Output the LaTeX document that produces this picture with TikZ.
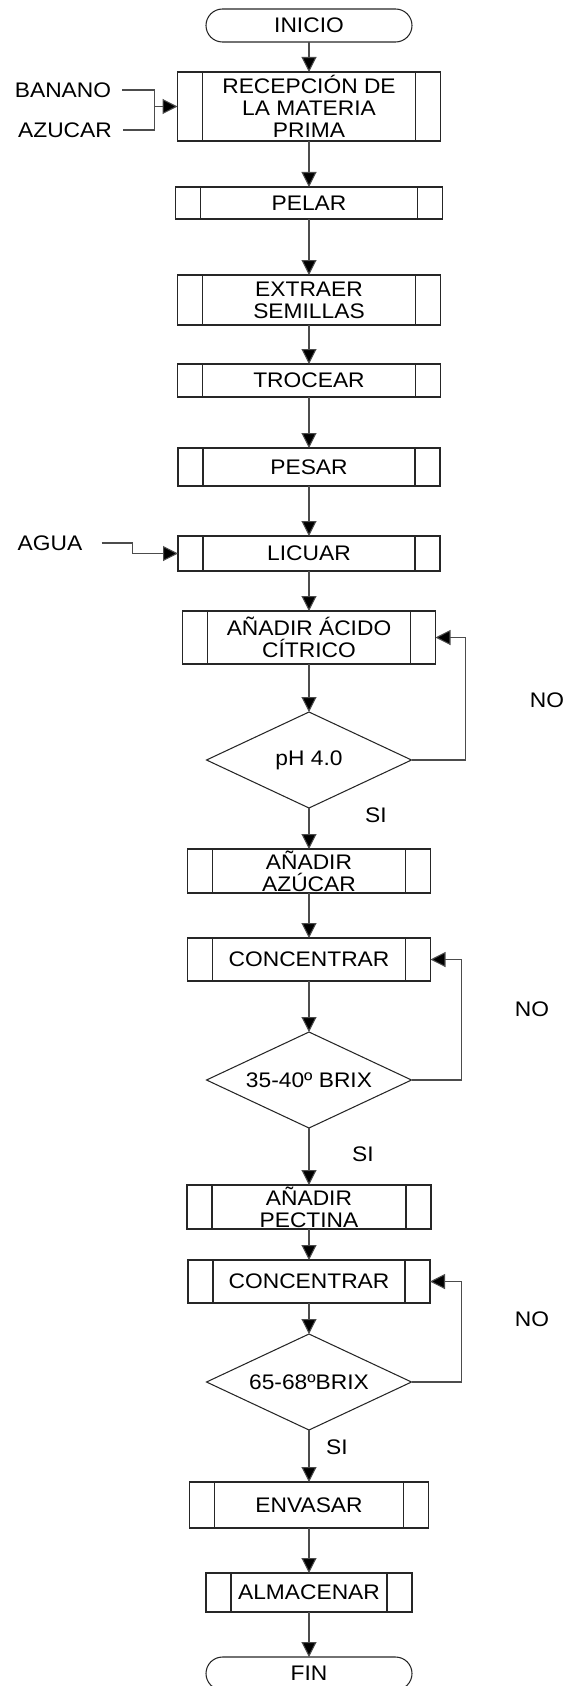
\documentclass[tikz,border=0pt]{standalone}
\usepackage{fontspec}
\setmainfont[FakeStretch=1.08]{Liberation Sans}
\usetikzlibrary{shapes,arrows.meta,positioning}

\begin{document}
\begin{tikzpicture}[
  node distance=0.8cm,
  font=\fontsize{12}{12.5}\selectfont,
  base/.style={draw=black!85, line width=0.6pt, align=center, inner sep=0pt, outer sep=0pt},
  proceso/.style={base, rectangle, path picture={
      \draw[black!85, line width=0.6pt] ([xshift=0.5cm]path picture bounding box.north west) -- ([xshift=0.5cm]path picture bounding box.south west);
      \draw[black!85, line width=0.6pt] ([xshift=-0.5cm]path picture bounding box.north east) -- ([xshift=-0.5cm]path picture bounding box.south east);}},
  terminal/.style={base, rectangle, rounded corners=0.33cm, minimum width=4.12cm, minimum height=0.66cm},
  decision/.style={base, diamond, aspect=2.13, minimum width=4.1cm, minimum height=1.92cm},
  etiqueta/.style={inner sep=2pt},
  linea/.style={draw=black!70, line width=0.6pt},
  arrow/.style={linea, -{Triangle[length=0.3cm, width=0.3cm, fill=black]}}
]
\useasboundingbox (0,0) rectangle (11.32,-33.72);

\node[terminal] (inicio) at (6.18,-0.51) {INICIO};
\node[proceso, minimum width=5.26cm, minimum height=1.38cm, below=0.60cm of inicio] (recep) {RECEPCIÓN DE\\LA MATERIA\\PRIMA};
\node[proceso, minimum width=5.34cm, minimum height=0.64cm, below=0.92cm of recep] (pelar) {PELAR};
\node[proceso, minimum width=5.26cm, minimum height=1.00cm, below=1.12cm of pelar] (extraer) {EXTRAER\\SEMILLAS};
\node[proceso, minimum width=5.26cm, minimum height=0.66cm, below=0.78cm of extraer] (trocear) {TROCEAR};
\node[proceso, minimum width=5.24cm, minimum height=0.76cm, below=1.02cm of trocear] (pesar) {PESAR};
\node[proceso, minimum width=5.24cm, minimum height=0.70cm, below=1.00cm of pesar] (licuar) {LICUAR};
\node[proceso, minimum width=5.06cm, minimum height=1.06cm, below=0.80cm of licuar] (acido) {AÑADIR ÁCIDO\\CÍTRICO};
\node[decision, below=0.96cm of acido] (ph) {pH 4.0};
\node[proceso, minimum width=4.86cm, minimum height=0.88cm, below=0.82cm of ph] (azucar) {AÑADIR\\AZÚCAR};
\node[proceso, minimum width=4.86cm, minimum height=0.86cm, below=0.90cm of azucar] (conc1) {CONCENTRAR};
\node[decision, below=1.02cm of conc1] (brix1) {35-40º BRIX};
\node[proceso, minimum width=4.88cm, minimum height=0.88cm, below=1.14cm of brix1] (pectina) {AÑADIR\\PECTINA};
\node[proceso, minimum width=4.84cm, minimum height=0.86cm, below=0.62cm of pectina] (conc2) {CONCENTRAR};
\node[decision, below=0.62cm of conc2] (brix2) {65-68ºBRIX};
\node[proceso, minimum width=4.78cm, minimum height=0.92cm, below=1.04cm of brix2] (envasar) {ENVASAR};
\node[proceso, minimum width=4.12cm, minimum height=0.78cm, below=0.90cm of envasar] (almacenar) {ALMACENAR};
\node[terminal, below=0.90cm of almacenar] (fin) {FIN};

% entradas
\node[etiqueta] (banano) at (1.26,-1.80) {BANANO};
\node[etiqueta] (azucarin) at (1.30,-2.60) {AZUCAR};
\node[etiqueta] (agua) at (1.00,-10.86) {AGUA};
\path (recep.west) ++(-0.46,0) coordinate (junta);

% respuestas
\node[etiqueta] (no1) at (10.94,-14.00) {NO};
\node[etiqueta] (si1) at (7.52,-16.30) {SI};
\node[etiqueta] (no2) at (10.64,-20.18) {NO};
\node[etiqueta] (si2) at (7.26,-23.08) {SI};
\node[etiqueta] (no3) at (10.64,-26.38) {NO};
\node[etiqueta] (si3) at (6.74,-28.94) {SI};

\draw[linea] ([xshift=0.15cm]banano.east) -| (junta);
\draw[linea] ([xshift=0.15cm]azucarin.east) -| (junta);
\draw[arrow] (junta) -- (recep.west);
\draw[arrow] ([xshift=0.31cm]agua.east) -- ++(0.62,0) |- (licuar.west);

\draw[arrow] (inicio) -- (recep);
\draw[arrow] (recep) -- (pelar);
\draw[arrow] (pelar) -- (extraer);
\draw[arrow] (extraer) -- (trocear);
\draw[arrow] (trocear) -- (pesar);
\draw[arrow] (pesar) -- (licuar);
\draw[arrow] (licuar) -- (acido);
\draw[arrow] (acido) -- (ph);
\draw[arrow] (ph) -- (azucar);
\draw[arrow] (azucar) -- (conc1);
\draw[arrow] (conc1) -- (brix1);
\draw[arrow] (brix1) -- (pectina);
\draw[arrow] (pectina) -- (conc2);
\draw[arrow] (conc2) -- (brix2);
\draw[arrow] (brix2) -- (envasar);
\draw[arrow] (envasar) -- (almacenar);
\draw[arrow] (almacenar) -- (fin);

% lazos NO
\draw[arrow] (ph.east) -- ++(1.08,0) |- (acido.east);
\draw[arrow] (brix1.east) -- ++(1.0,0) |- (conc1.east);
\draw[arrow] (brix2.east) -- ++(1.0,0) |- (conc2.east);
\end{tikzpicture}
\end{document}
